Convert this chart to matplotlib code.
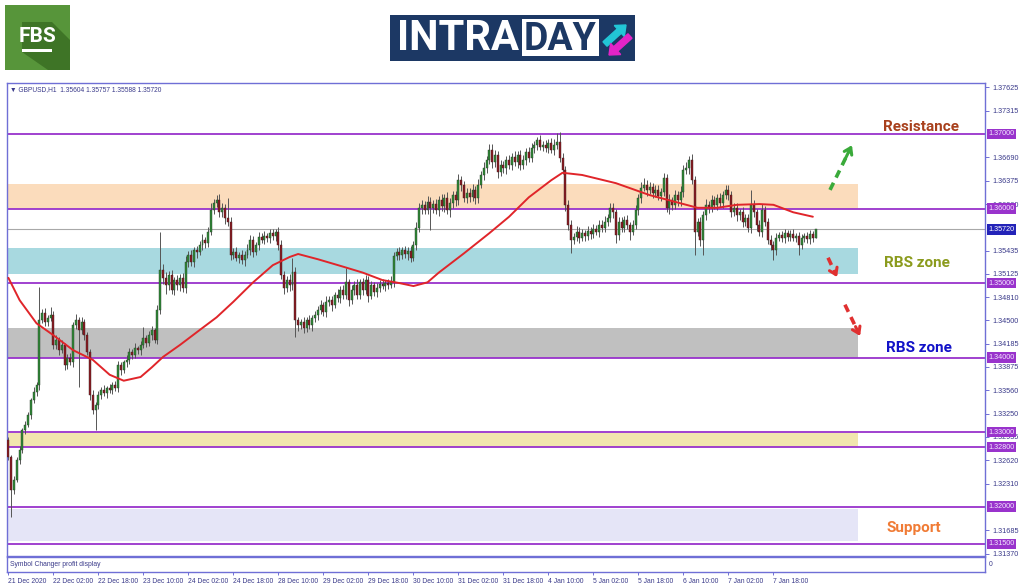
import matplotlib
matplotlib.use('Agg')
import matplotlib.pyplot as plt
import matplotlib.patches as mpatches
from matplotlib.transforms import blended_transform_factory
import numpy as np

W, H = 1024, 587

# ---------------- data ----------------
first_open = 1.3290
closes = [
    1.3267, 1.3222, 1.3236, 1.3263, 1.3276, 1.3303, 1.3310, 1.3323, 1.3343, 1.3354, 1.3363, 1.3450, 1.3460, 1.3448, 1.3453, 1.3457,
    1.3417, 1.3424, 1.3410, 1.3417, 1.3390, 1.3400, 1.3394, 1.3444, 1.3450, 1.3437, 1.3448, 1.3430, 1.3408, 1.3350, 1.3330, 1.3336,
    1.3350, 1.3357, 1.3353, 1.3359, 1.3357, 1.3363, 1.3359, 1.3390, 1.3383, 1.3394, 1.3397, 1.3408, 1.3404, 1.3413, 1.3410, 1.3417,
    1.3426, 1.3420, 1.3430, 1.3437, 1.3424, 1.3464, 1.3518, 1.3507, 1.3497, 1.3511, 1.3491, 1.3504, 1.3497, 1.3507, 1.3493, 1.3528,
    1.3538, 1.3528, 1.3544, 1.3542, 1.3551, 1.3558, 1.3554, 1.3569, 1.3598, 1.3607, 1.3611, 1.3595, 1.3601, 1.3587, 1.3582, 1.3538,
    1.3542, 1.3534, 1.3538, 1.3531, 1.3538, 1.3544, 1.3558, 1.3542, 1.3551, 1.3562, 1.3558, 1.3563, 1.3561, 1.3567, 1.3563, 1.3569,
    1.3551, 1.3511, 1.3493, 1.3504, 1.3497, 1.3515, 1.3450, 1.3444, 1.3448, 1.3440, 1.3450, 1.3444, 1.3453, 1.3457, 1.3464, 1.3471,
    1.3461, 1.3475, 1.3477, 1.3471, 1.3484, 1.3480, 1.3491, 1.3484, 1.3501, 1.3477, 1.3491, 1.3497, 1.3484, 1.3501, 1.3491, 1.3504,
    1.3483, 1.3497, 1.3488, 1.3493, 1.3499, 1.3496, 1.3500, 1.3497, 1.3501, 1.3536, 1.3542, 1.3538, 1.3544, 1.3539, 1.3543, 1.3534,
    1.3551, 1.3574, 1.3601, 1.3605, 1.3598, 1.3609, 1.3601, 1.3606, 1.3598, 1.3611, 1.3603, 1.3614, 1.3598, 1.3607, 1.3618, 1.3611,
    1.3638, 1.3632, 1.3614, 1.3621, 1.3615, 1.3625, 1.3614, 1.3632, 1.3645, 1.3654, 1.3665, 1.3679, 1.3662, 1.3672, 1.3649, 1.3658,
    1.3654, 1.3665, 1.3658, 1.3669, 1.3662, 1.3672, 1.3658, 1.3665, 1.3676, 1.3668, 1.3681, 1.3685, 1.3692, 1.3683, 1.3685, 1.3681,
    1.3688, 1.3679, 1.3685, 1.3689, 1.3668, 1.3652, 1.3605, 1.3578, 1.3558, 1.3562, 1.3569, 1.3561, 1.3567, 1.3563, 1.3570, 1.3566,
    1.3573, 1.3569, 1.3578, 1.3574, 1.3582, 1.3587, 1.3601, 1.3595, 1.3565, 1.3582, 1.3574, 1.3585, 1.3578, 1.3569, 1.3578, 1.3598,
    1.3614, 1.3628, 1.3632, 1.3625, 1.3629, 1.3621, 1.3625, 1.3617, 1.3622, 1.3641, 1.3601, 1.3611, 1.3605, 1.3618, 1.3611, 1.3622,
    1.3652, 1.3654, 1.3665, 1.3638, 1.3569, 1.3582, 1.3558, 1.3591, 1.3605, 1.3601, 1.3611, 1.3605, 1.3614, 1.3607, 1.3618, 1.3625,
    1.3618, 1.3595, 1.3601, 1.3591, 1.3595, 1.3582, 1.3587, 1.3574, 1.3605, 1.3595, 1.3578, 1.3569, 1.3598, 1.3582, 1.3558, 1.3551,
    1.3544, 1.3561, 1.3565, 1.3561, 1.3567, 1.3562, 1.3566, 1.3561, 1.3563, 1.3551, 1.3561, 1.3563, 1.3559, 1.3566, 1.35604, 1.35720,
]
# wick lengths in pips above / below the candle body
wick_up = [
    4, 3, 5, 4, 6, 3, 5, 4, 3, 6, 4, 45, 5, 7, 4, 11,
    5, 6, 4, 7, 3, 5, 6, 4, 8, 5, 6, 4, 5, 3, 6, 4,
    5, 4, 6, 3, 5, 4, 6, 5, 4, 3, 6, 5, 4, 7, 3, 5,
    15, 4, 6, 5, 3, 6, 51, 7, 8, 5, 6, 4, 7, 5, 6, 8,
    5, 7, 4, 6, 5, 8, 4, 6, 9, 6, 7, 8, 6, 5, 27, 6,
    5, 6, 4, 7, 5, 8, 6, 5, 4, 6, 5, 7, 4, 6, 5, 4,
    6, 7, 5, 6, 8, 19, 6, 5, 4, 6, 5, 7, 4, 6, 5, 6,
    4, 7, 5, 6, 4, 8, 5, 6, 19, 5, 7, 6, 8, 5, 6, 7,
    5, 6, 4, 7, 5, 6, 4, 5, 8, 6, 5, 7, 4, 6, 5, 7,
    6, 8, 7, 6, 5, 8, 6, 5, 7, 6, 9, 5, 8, 7, 6, 5,
    8, 6, 5, 7, 6, 8, 5, 7, 6, 8, 6, 8, 7, 6, 5, 7,
    6, 5, 7, 6, 8, 5, 6, 7, 5, 6, 7, 6, 4, 6, 5, 7,
    5, 6, 8, 12, 14, 6, 5, 7, 6, 5, 7, 6, 5, 4, 6, 5,
    6, 5, 7, 6, 8, 5, 6, 7, 5, 6, 7, 5, 6, 4, 6, 7,
    6, 8, 9, 6, 7, 5, 6, 7, 5, 7, 6, 8, 5, 7, 6, 8,
    7, 8, 6, 8, 6, 5, 7, 6, 8, 5, 7, 6, 5, 7, 6, 7,
    6, 5, 7, 6, 5, 7, 6, 5, 20, 6, 5, 7, 8, 6, 5, 6,
    5, 6, 4, 5, 6, 4, 5, 7, 4, 6, 5, 4, 6, 5, 4, 0.4,
]
wick_dn = [
    4, 36, 5, 3, 6, 4, 5, 3, 6, 4, 5, 6, 4, 5, 6, 4,
    6, 5, 7, 4, 6, 5, 4, 6, 5, 76, 5, 6, 4, 7, 6, 27,
    5, 6, 4, 7, 5, 6, 4, 5, 6, 4, 7, 5, 6, 4, 5, 6,
    4, 6, 5, 7, 4, 6, 5, 8, 12, 6, 5, 7, 6, 8, 5, 6,
    7, 5, 6, 8, 5, 6, 7, 5, 4, 6, 5, 7, 6, 8, 5, 7,
    6, 5, 7, 6, 8, 5, 6, 7, 5, 6, 4, 5, 6, 7, 5, 6,
    7, 6, 8, 5, 7, 6, 22, 8, 6, 7, 5, 6, 8, 5, 7, 6,
    5, 7, 6, 8, 5, 6, 7, 5, 6, 8, 5, 7, 6, 5, 7, 6,
    8, 5, 6, 7, 5, 4, 6, 5, 4, 6, 5, 7, 6, 5, 8, 6,
    5, 7, 6, 8, 5, 6, 30, 7, 5, 8, 6, 7, 5, 9, 6, 7,
    6, 8, 5, 7, 6, 5, 8, 6, 5, 7, 6, 5, 7, 6, 8, 5,
    6, 7, 5, 6, 5, 7, 6, 5, 7, 6, 5, 6, 7, 5, 6, 5,
    6, 5, 7, 5, 6, 6, 8, 7, 18, 5, 6, 7, 5, 6, 5, 7,
    6, 5, 7, 6, 5, 6, 5, 8, 11, 7, 6, 5, 6, 11, 5, 6,
    7, 6, 5, 8, 6, 7, 5, 6, 7, 5, 6, 8, 7, 6, 8, 7,
    6, 5, 7, 5, 31, 6, 8, 20, 6, 7, 5, 6, 7, 5, 6, 5,
    6, 7, 5, 8, 6, 7, 5, 6, 7, 6, 8, 6, 7, 5, 6, 7,
    13, 6, 5, 6, 7, 5, 6, 5, 6, 13, 5, 6, 5, 6, 5, 0.2,
]
# moving average (bar index, value)
ma_idx = [0, 4, 10, 16, 23, 30, 36, 41, 47, 51, 55, 61, 68, 74, 80, 87, 94, 100, 103, 110,
          119, 126, 133, 139, 144, 149, 153, 162, 171, 178, 185, 193, 197, 204, 216, 228, 235, 245,
          252, 259, 267, 272, 279, 286]
ma_val = [1.3507, 1.3477, 1.3446, 1.3430, 1.3410, 1.3397, 1.3377, 1.3369, 1.3374, 1.3387,
          1.3401, 1.3417, 1.3437, 1.3454, 1.3475, 1.3501, 1.3524, 1.3535, 1.3539, 1.3532,
          1.3522, 1.3514, 1.3504, 1.3500, 1.3496, 1.3501, 1.3514, 1.3540, 1.3567, 1.3589,
          1.3615, 1.3638, 1.3648, 1.3645, 1.3634, 1.3618, 1.3611, 1.3601, 1.3601, 1.3605,
          1.3606, 1.3605, 1.3595, 1.3589]

time_labels = ['21 Dec 2020', '22 Dec 02:00', '22 Dec 18:00', '23 Dec 10:00', '24 Dec 02:00',
               '24 Dec 18:00', '28 Dec 10:00', '29 Dec 02:00', '29 Dec 18:00', '30 Dec 10:00',
               '31 Dec 02:00', '31 Dec 18:00', '4 Jan 10:00', '5 Jan 02:00', '5 Jan 18:00',
               '6 Jan 10:00', '7 Jan 02:00', '7 Jan 18:00']
label_step = 16

level_prices = [1.37000, 1.36000, 1.35000, 1.34000, 1.33000, 1.32800, 1.32000, 1.31500]
price_ticks = [1.37625, 1.37315, 1.36690, 1.36375, 1.36060, 1.35435, 1.35125, 1.34810, 1.34500,
               1.34185, 1.33875, 1.33560, 1.33250, 1.32935, 1.32620, 1.32310, 1.31685, 1.31370]
current_price = 1.35720

zone_low = [1.3600, 1.3512, 1.3400, 1.3280, 1.3154]
zone_high = [1.3633, 1.3547, 1.3440, 1.3299, 1.3197]
zone_end_bar = 302
zone_colors = ['#fbdcbc', '#a8d9e0', '#c0c0c0', '#f1e6ae', '#e5e5f7']

header = '\u25BC GBPUSD,H1  1.35604 1.35757 1.35588 1.35720'

# ---------------- figure ----------------
fig = plt.figure(figsize=(W / 100, H / 100), dpi=100)
fig.patch.set_facecolor('white')


def rect(l, t, r, b):
    return [l / W, 1 - b / H, (r - l) / W, (b - t) / H]


FRAME = '#6f6fd6'
TXT = '#3a3a8a'
PURPLE = '#9933cc'
SMALL = 'Liberation Sans'

ax = fig.add_axes(rect(7, 83, 985, 556))
n = len(closes)
idx = np.arange(n)
c = np.array(closes)
o = np.r_[first_open, c[:-1]]
hi = np.maximum(o, c) + np.array(wick_up) * 1e-4
lo = np.minimum(o, c) - np.array(wick_dn) * 1e-4

ax.set_xlim(-0.5, 347.2)
ax.set_ylim(1.313384, 1.376842)

# zones
for zl, zh, zc in zip(zone_low, zone_high, zone_colors):
    ax.add_patch(mpatches.Rectangle((-0.5, zl), zone_end_bar + 0.5, zh - zl,
                                    facecolor=zc, edgecolor='none', zorder=0))
# level lines
for lv in level_prices:
    ax.axhline(lv, color=PURPLE, lw=1.3, zorder=1)
ax.axhline(current_price, color='#a8a8a8', lw=0.8, zorder=1)

# candles
up = c >= o
ax.vlines(idx, lo, hi, color='#555555', lw=0.7, zorder=2)
body = np.where(np.abs(c - o) < 0.00008, 0.00008, c - o)
ax.bar(idx[up], body[up], bottom=o[up], width=0.7, color='#2f8a36',
       edgecolor='#2a3a2a', linewidth=0.3, zorder=3)
ax.bar(idx[~up], body[~up], bottom=o[~up], width=0.7, color='#8b1a22',
       edgecolor='#3a2020', linewidth=0.3, zorder=3)

# moving average
ax.plot(ma_idx, ma_val, color='#e0252a', lw=1.4, zorder=4, solid_capstyle='round')

# axes styling
for s in ax.spines.values():
    s.set_color(FRAME)
    s.set_linewidth(1.0)
ax.set_xticks([])
ax.yaxis.tick_right()
ax.set_yticks(price_ticks)
ax.set_yticklabels(['%.5f' % p for p in price_ticks], family=SMALL)
ax.tick_params(axis='y', direction='out', length=3, width=0.7, color=FRAME,
               labelsize=5.2, labelcolor=TXT, pad=2)

trans = blended_transform_factory(ax.transAxes, ax.transData)
for lv in level_prices:
    ax.text(1.0035, lv, '%.5f' % lv, transform=trans, fontsize=5.2, color='#f4e8ff',
            family=SMALL, va='center', ha='left', clip_on=False, zorder=10,
            bbox=dict(boxstyle='square,pad=0.25', fc=PURPLE, ec='none'))
ax.text(1.0035, current_price, '%.5f' % current_price, transform=trans, fontsize=5.2,
        family=SMALL, color='white', va='center', ha='left', clip_on=False, zorder=10,
        bbox=dict(boxstyle='square,pad=0.25', fc='#2323b8', ec='none'))

ax.text(0.003, 0.987, header, transform=ax.transAxes, fontsize=4.8, color=TXT,
        va='center', ha='left', family=['Liberation Sans', 'DejaVu Sans'])

# annotation texts
ax.text(324.5, 1.3709, 'Resistance', fontsize=11, fontweight='bold', family='Roboto',
        color='#a8401c', ha='center', va='center')
ax.text(323.0, 1.3527, 'RBS zone', fontsize=11, fontweight='bold', family='Roboto',
        color='#8b9b1d', ha='center', va='center')
ax.text(323.8, 1.3413, 'RBS zone', fontsize=11, fontweight='bold', family='Roboto',
        color='#1212c8', ha='center', va='center')
ax.text(322.0, 1.3171, 'Support', fontsize=11, fontweight='bold', family='Roboto',
        color='#f07b35', ha='center', va='center')


def dashed_arrow(x0, y0, x1, y1, color):
    ax.plot([x0, x0 + (x1 - x0) * 0.85], [y0, y0 + (y1 - y0) * 0.85], color=color, lw=2.6,
            dashes=(2.2, 1.6), zorder=6, solid_capstyle='butt')
    ax.annotate('', xy=(x1, y1), xytext=(x0 + (x1 - x0) * 0.7, y0 + (y1 - y0) * 0.7),
                arrowprops=dict(arrowstyle='->,head_length=0.45,head_width=0.3',
                                color=color, lw=2.2, shrinkA=0, shrinkB=0), zorder=6)


dashed_arrow(292.1, 1.3625, 299.9, 1.3685, '#3aaa3a')
dashed_arrow(291.4, 1.3534, 294.6, 1.3508, '#e03030')
dashed_arrow(297.4, 1.3471, 302.8, 1.3429, '#e03030')

# ---------------- sub window + time axis ----------------
ax2 = fig.add_axes(rect(7, 557, 985, 572))
ax2.set_xlim(-0.5, 347.2)
ax2.set_ylim(0, 1)
ax2.set_yticks([])
for s in ax2.spines.values():
    s.set_color(FRAME)
    s.set_linewidth(1.0)
ticks = [i * label_step for i in range(len(time_labels))]
ax2.set_xticks(ticks)
ax2.set_xticklabels(time_labels, family=SMALL)
ax2.tick_params(axis='x', direction='out', length=2.5, width=0.7, color=FRAME,
                labelsize=4.9, labelcolor=TXT, pad=1.5)
for lab in ax2.get_xticklabels():
    lab.set_ha('left')
ax2.text(0.003, 0.5, 'Symbol Changer profit display', transform=ax2.transAxes,
         fontsize=4.9, color=TXT, va='center', ha='left', family=SMALL)
ax2.text(1.004, 0.5, '0', transform=ax2.transAxes, fontsize=4.9, color=TXT,
         va='center', ha='left', clip_on=False, family=SMALL)

# ---------------- logos (pixel overlay) ----------------
ov = fig.add_axes([0, 0, 1, 1], zorder=-5)
ov.set_xlim(0, W)
ov.set_ylim(H, 0)
ov.axis('off')

# FBS logo
ov.add_patch(mpatches.Rectangle((5, 5), 65, 65, facecolor='#57953a', edgecolor='none'))
ov.add_patch(mpatches.Polygon([(22, 22), (52, 22), (70, 40), (70, 70), (48, 70), (22, 52)],
                              closed=True, facecolor='#3e7426', edgecolor='none'))
ov.text(37, 36, 'FBS', color='white', fontsize=15, fontweight='bold', family='Roboto',
        ha='center', va='center')
ov.add_patch(mpatches.Rectangle((22, 49), 30, 3, facecolor='white', edgecolor='none'))

# INTRADAY logo
ov.add_patch(mpatches.Rectangle((390, 15), 245, 46, facecolor='#1c3864', edgecolor='none'))
ov.text(397, 39, 'INTRA', color='white', fontsize=30, fontweight='bold', family='Roboto',
        ha='left', va='center')
ov.add_patch(mpatches.Rectangle((522, 19), 77, 37, facecolor='white', edgecolor='none'))
ov.text(560, 39, 'DAY', color='#1c3864', fontsize=27, fontweight='bold', family='Roboto',
        ha='center', va='center')
ov.add_patch(mpatches.FancyArrow(605, 44, 21, -19, width=6, head_width=15, head_length=9,
                                 length_includes_head=True, color='#22c6d6'))
ov.add_patch(mpatches.FancyArrow(630, 36, -21, 19, width=6, head_width=15, head_length=9,
                                 length_includes_head=True, color='#e324c7'))

fig.savefig('out.png', dpi=100)
